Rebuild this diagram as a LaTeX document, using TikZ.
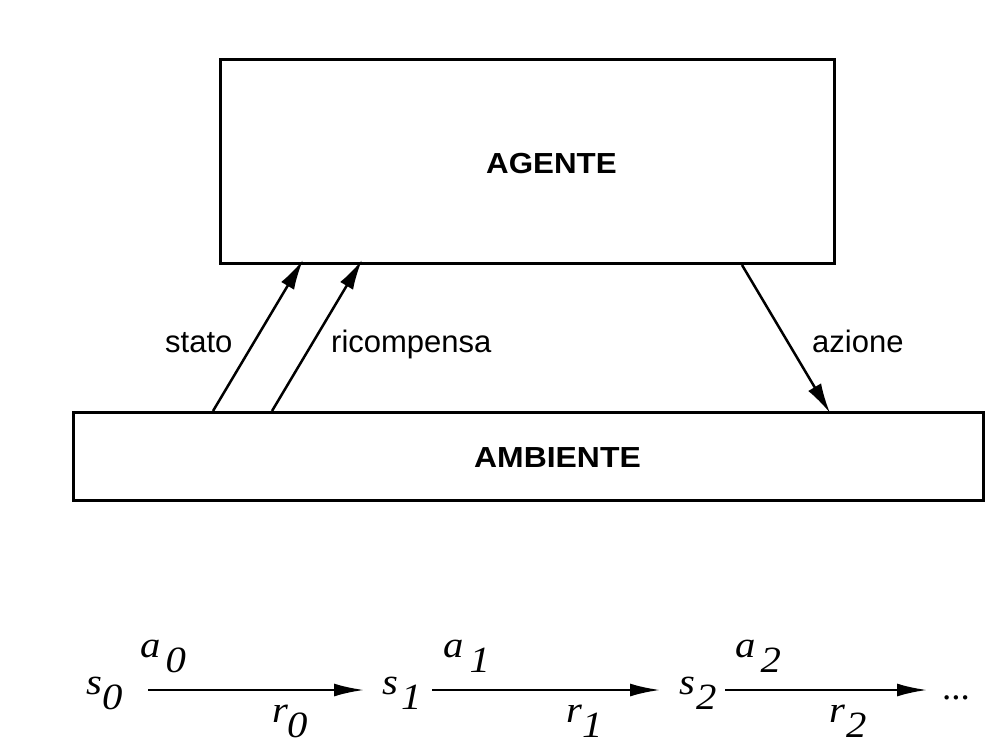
\documentclass[tikz,border=0pt]{standalone}
\usepackage{fontspec}
\usepackage{graphicx}
\setmainfont{Liberation Serif}
\setsansfont{Liberation Sans}
\usetikzlibrary{arrows.meta,calc}
\newcommand\seqlab[3]{\scalebox{1.1}[1]{\itshape #1}\kern#3\raisebox{-15pt}{\scalebox{1.1}[1]{\itshape #2}}}
\tikzset{
  boxnode/.style={draw=black, line width=3pt, anchor=north west, inner sep=0pt},
  flowarrow/.style={line width=2.5pt, -{Latex[length=30pt,width=15pt]}},
  seqarrow/.style={line width=2.5pt, -{Latex[length=30pt,width=13pt]}},
  sanslabel/.style={anchor=base west, inner sep=0pt, font=\sffamily\fontsize{31}{36}\selectfont},
  titlelabel/.style={anchor=base west, inner sep=0pt, font=\sffamily\bfseries\fontsize{29}{34}\selectfont},
  seqnode/.style={anchor=base west, inner sep=0pt, font=\fontsize{37}{42}\selectfont},
}
\begin{document}
\begin{tikzpicture}[x=1pt,y=-1pt]
\fill[white] (0,0) rectangle (988,755);
\useasboundingbox (0,0) rectangle (988,755);
% boxes
\node[boxnode, minimum width=614pt, minimum height=204pt] (agent) at (219,58) {};
\node[boxnode, minimum width=910pt, minimum height=88pt] (amb) at (72,411) {};
\node[titlelabel] (agentlab) at (486,173) {\scalebox{1.08}[1]{AGENTE}};
\node[titlelabel] (amblab) at (474,467) {\scalebox{1.1}[1]{AMBIENTE}};
% connectors
\coordinate (statoS) at ($(amb.north west)+(141,0)$);
\coordinate (statoE) at ($(agent.south west)+(84,-5)$);
\coordinate (ricS) at ($(amb.north west)+(200,0)$);
\coordinate (ricE) at ($(agent.south west)+(143,-5)$);
\coordinate (azS) at ($(agent.south west)+(523,0)$);
\coordinate (azE) at ($(amb.north west)+(758,2)$);
\draw[flowarrow] (statoS) -- (statoE);
\draw[flowarrow] (ricS) -- (ricE);
\draw[flowarrow] (azS) -- (azE);
\node[sanslabel] (stato) at (165,352) {stato};
\node[sanslabel] (ricomp) at (331,352) {ricompensa};
\node[sanslabel] (azione) at (812,352) {azione};
% sequence
\node[seqnode] (s0) at (86,694) {\seqlab{s}{0}{0pt}};
\node[seqnode] (s1) at (382,694) {\seqlab{s}{1}{3pt}};
\node[seqnode] (s2) at (679,694) {\seqlab{s}{2}{1pt}};
\node[seqnode] (a0) at (140,657) {\seqlab{a}{0}{5pt}};
\node[seqnode] (a1) at (443,657) {\seqlab{a}{1}{6pt}};
\node[seqnode] (a2) at (735,657) {\seqlab{a}{2}{5pt}};
\node[seqnode] (r0) at (272,722) {\seqlab{r}{0}{-1pt}};
\node[seqnode] (r1) at (566,722) {\seqlab{r}{1}{0pt}};
\node[seqnode] (r2) at (829,722) {\seqlab{r}{2}{1pt}};
\node[seqnode] (dots) at (942,699) {...};
\coordinate (e0s) at (148,690);
\coordinate (e0e) at (364,690);
\coordinate (e1s) at (432,690);
\coordinate (e1e) at (660,690);
\coordinate (e2s) at (725,690);
\coordinate (e2e) at (927,690);
\draw[seqarrow] (e0s) -- (e0e);
\draw[seqarrow] (e1s) -- (e1e);
\draw[seqarrow] (e2s) -- (e2e);
\end{tikzpicture}
\end{document}
